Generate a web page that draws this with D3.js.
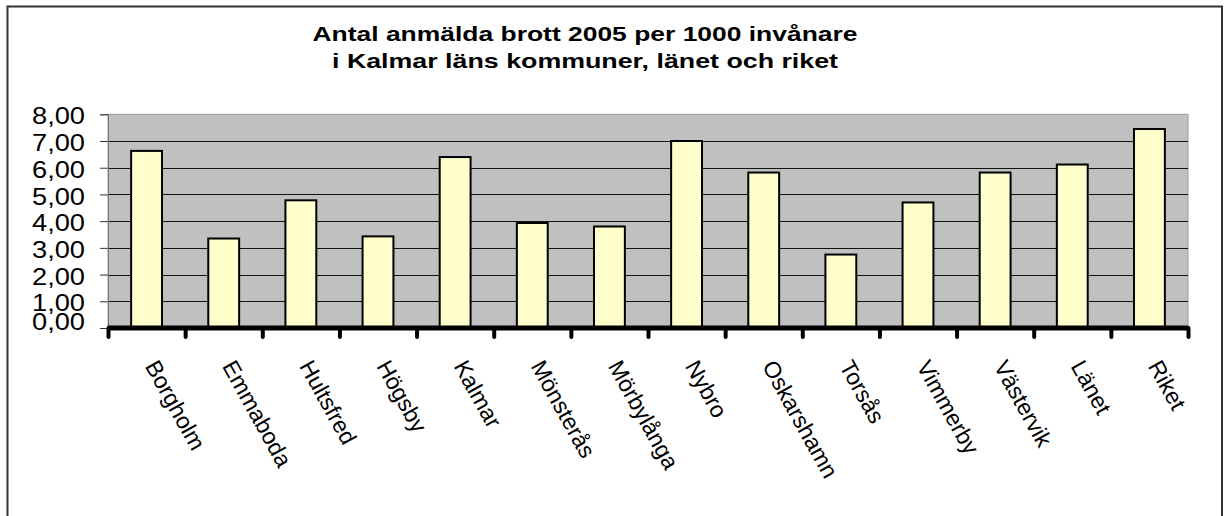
<!DOCTYPE html>
<html>
<head>
<meta charset="utf-8">
<script src="https://cdn.jsdelivr.net/npm/d3@7"></script>
<style>
  html, body { margin: 0; padding: 0; background: #fff; }
  svg { display: block; }
  text { font-family: "Liberation Sans", Arial, sans-serif; fill: #000; }
</style>
</head>
<body>
<svg id="chart" width="1224" height="516"></svg>
<script>
const categories = ["Borgholm","Emmaboda","Hultsfred","Högsby","Kalmar","Mönsterås","Mörbylånga","Nybro","Oskarshamn","Torsås","Vimmerby","Västervik","Länet","Riket"];
const values = [6.63, 3.35, 4.78, 3.43, 6.40, 3.93, 3.80, 7.00, 5.82, 2.75, 4.70, 5.82, 6.12, 7.45];
const yTicks = [0, 1, 2, 3, 4, 5, 6, 7, 8];
const titleLines = ["Antal anmälda brott 2005 per 1000 invånare", "i Kalmar läns kommuner, länet och riket"];

const svg = d3.select("#chart");
const plot = { left: 108, right: 1188, top: 114.3, bottom: 328 };

// outer frame (bottom edge extends beyond the picture)
svg.append("rect")
  .attr("x", 7.5).attr("y", 6.5)
  .attr("width", 1222 - 7.5).attr("height", 600)
  .attr("fill", "#fff").attr("stroke", "#333").attr("stroke-width", 2);

const x = d3.scaleBand().domain(categories).range([plot.left, plot.right])
  .paddingInner(0.6).paddingOuter(0.3);
const y = d3.scaleLinear().domain([0, 8]).range([plot.bottom, plot.top]);
const xb = d3.scaleLinear().domain([0, categories.length]).range([plot.left, plot.right]);

const locale = d3.formatLocale({ decimal: ",", thousands: " ", grouping: [3], currency: ["", " kr"] });
const fmt = locale.format(".2f");

// plot area
svg.append("rect")
  .attr("x", plot.left).attr("y", plot.top)
  .attr("width", plot.right - plot.left).attr("height", plot.bottom - plot.top)
  .attr("fill", "#c0c0c0").attr("stroke", "#999").attr("stroke-width", 1);

// gridlines
svg.append("g").selectAll("line")
  .data(yTicks.filter(d => d > 0 && d < 8))
  .join("line")
  .attr("x1", plot.left).attr("x2", plot.right)
  .attr("y1", d => Math.round(y(d)) + 0.5).attr("y2", d => Math.round(y(d)) + 0.5)
  .attr("stroke", "#111").attr("stroke-width", 1);

// y axis
const yAxis = svg.append("g")
  .attr("transform", `translate(${plot.left},0)`)
  .call(d3.axisLeft(y).tickValues(yTicks).tickSize(8).tickPadding(15).tickFormat(fmt));
yAxis.select(".domain").attr("stroke", "#777");
yAxis.selectAll(".tick line").attr("stroke", "#333");
yAxis.selectAll(".tick text")
  .attr("font-family", "Liberation Sans, Arial, sans-serif")
  .attr("font-size", 23)
  .attr("fill", "#000")
  .attr("textLength", 53).attr("lengthAdjust", "spacingAndGlyphs")
  .attr("dy", d => d === 0 ? "0.08em" : "0.42em");

// bars
svg.append("g").selectAll("rect")
  .data(categories.map((c, i) => ({ c, v: values[i] })))
  .join("rect")
  .attr("x", d => x(d.c)).attr("width", x.bandwidth())
  .attr("y", d => y(d.v)).attr("height", d => y(0) - y(d.v))
  .attr("fill", "#ffffcc").attr("stroke", "#000").attr("stroke-width", 2);

// x axis (thick line with boundary ticks)
const xAxis = svg.append("g")
  .attr("transform", `translate(0,${plot.bottom})`)
  .call(d3.axisBottom(xb).tickValues(d3.range(categories.length + 1)).tickSize(9).tickFormat(""));
xAxis.select(".domain").attr("stroke", "#000").attr("stroke-width", 5)
  .attr("d", `M${plot.left},0H${plot.right}`);
xAxis.selectAll(".tick line").attr("stroke", "#000").attr("stroke-width", 4).attr("stroke-linecap", "round");

// category labels
const angle = 61;
svg.append("g").selectAll("text")
  .data(categories)
  .join("text")
  .attr("transform", d => `translate(${x(d) + x.bandwidth() / 2 - 2},${plot.bottom + 38}) rotate(${angle})`)
  .attr("font-size", 23)
  .attr("text-anchor", "start")
  .text(d => d);

// title
const titleLen = [545, 506];
svg.append("g").selectAll("text")
  .data(titleLines)
  .join("text")
  .attr("x", 585)
  .attr("y", (d, i) => 41 + i * 27.3)
  .attr("text-anchor", "middle")
  .attr("font-size", 21)
  .attr("font-weight", "bold")
  .attr("textLength", (d, i) => titleLen[i]).attr("lengthAdjust", "spacingAndGlyphs")
  .text(d => d);
</script>
</body>
</html>
